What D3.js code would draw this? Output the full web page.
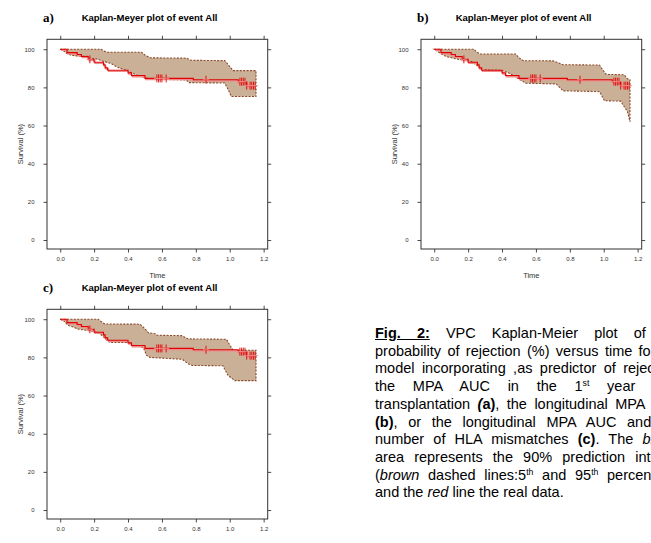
<!DOCTYPE html>
<html>
<head>
<meta charset="utf-8">
<script src="https://cdnjs.cloudflare.com/ajax/libs/d3/7.8.5/d3.min.js"></script>
<style>
    body { margin: 0; background: #fff; width: 651px; height: 543px; overflow: hidden; position: relative;
           font-family: "Liberation Sans", Arial, sans-serif; }
    svg { position: absolute; left: 0; top: 0; }
    #caption { position: absolute; left: 375px; top: 325px; width: 307px; font-size: 14.5px; line-height: 17.7px; color: #000; }
    #caption .ln { text-align: justify; text-align-last: justify; }
    #caption .ln.last { text-align-last: left; }
    #caption sup { font-size: 0.6em; line-height: 0; vertical-align: 0.6em; }
</style>
</head>
<body>
<script>
// axis ticks
const xTicks = [0, 0.2, 0.4, 0.6, 0.8, 1.0, 1.2];
const xTickLabels = ['0.0', '0.2', '0.4', '0.6', '0.8', '1.0', '1.2'];
const yTicks = [0, 20, 40, 60, 80, 100];

// observed Kaplan-Meier curve (same in all panels)
const kmTime = [0, 0.04, 0.10, 0.125, 0.165, 0.20, 0.255, 0.265, 0.28, 0.40, 0.42, 0.50, 0.785, 1.05, 1.10];
const kmSurv = [100, 98.2, 97.2, 96.2, 94.7, 93.2, 91.8, 90.2, 89.0, 87.6, 86.2, 84.7, 84.0, 83.0, 80.9];
const kmEnd = 1.15;
const censorTimes = [0.175, 0.57, 0.58, 0.59, 0.60, 0.625, 0.86, 1.06, 1.07, 1.08, 1.09, 1.10, 1.12, 1.13, 1.14, 1.15];

// 90% prediction interval, [time, survival]
const bandAUpper = [[0, 100], [0.24, 100], [0.26, 99], [0.28, 98.4], [0.48, 98.4], [0.50, 97], [0.53, 95.5],
    [0.745, 95.3], [0.77, 94.2], [0.97, 94.0], [0.99, 92], [1.02, 88.8], [1.155, 88.8]];
const bandALower = [[0, 100], [0.02, 99.2], [0.035, 98.0], [0.06, 97.0], [0.09, 96.5], [0.16, 96.3], [0.175, 95.3],
    [0.22, 94.8], [0.26, 93.5], [0.30, 92.5], [0.34, 90.5], [0.40, 88.5], [0.45, 86.5], [0.50, 85.0], [0.55, 84.3],
    [0.745, 83.9], [0.76, 82.5], [0.97, 82.3], [0.99, 79], [1.01, 75.2], [1.155, 75.2]];

const bandBUpper = [[0, 100], [0.235, 100], [0.25, 98.5], [0.27, 97.5], [0.48, 97.5], [0.50, 95.5], [0.525, 94.0],
    [0.70, 93.9], [0.76, 91.9], [0.975, 91.7], [0.995, 89], [1.015, 86.8], [1.12, 86.6], [1.14, 84.5], [1.155, 84]];
const bandBLower = [[0, 100], [0.02, 98.8], [0.04, 97.6], [0.07, 96.2], [0.11, 95.3], [0.17, 94.3], [0.22, 93.5],
    [0.26, 91.0], [0.28, 89.3], [0.40, 88.8], [0.44, 87.6], [0.49, 84.9], [0.54, 82.2], [0.72, 81.8], [0.76, 78.2],
    [0.975, 77.8], [1.005, 73.0], [1.10, 72.8], [1.14, 67.3], [1.155, 62]];

const bandCUpper = [[0, 100], [0.224, 100], [0.245, 98.5], [0.264, 97.5], [0.47, 97.4], [0.50, 95], [0.52, 92.9],
    [0.56, 92.4], [0.57, 91.6], [0.716, 91.4], [0.755, 89.7], [0.98, 89.5], [1.0, 86.5], [1.02, 83.7], [1.155, 83.7]];
const bandCLower = [[0, 100], [0.02, 99.3], [0.03, 98.2], [0.05, 96.7], [0.08, 95.8], [0.10, 94.9], [0.13, 94.5],
    [0.20, 93.6], [0.24, 92.0], [0.27, 89.5], [0.29, 87.9], [0.39, 87.8], [0.44, 86.2], [0.49, 85.2], [0.51, 81.0],
    [0.53, 80.0], [0.72, 79.0], [0.755, 76.6], [0.78, 75.8], [0.96, 75.6], [0.99, 70.6], [1.03, 67.8], [1.155, 67.8]];

const panels = [
    { tag: 'a)', ox: 0, oy: 0, upper: bandAUpper, lower: bandALower },
    { tag: 'b)', ox: 374, oy: 0, upper: bandBUpper, lower: bandBLower },
    { tag: 'c)', ox: 0, oy: 270, upper: bandCUpper, lower: bandCLower }
];

const box = { left: 47, top: 39.3, width: 220.7, height: 209.7 };

const svg = d3.select('body').append('svg')
    .attr('width', 651)
    .attr('height', 543);

const x = d3.scaleLinear().domain([-0.078, 1.224]).range([0, box.width]);
const y = d3.scaleLinear().domain([-4.7, 105.2]).range([box.height, 0]);

function kmAt(t) {
    let s = kmSurv[0];
    kmTime.forEach((tt, i) => { if (tt <= t) s = kmSurv[i]; });
    return s;
}

function styleAxis(sel) {
    sel.select('.domain').remove();
    sel.selectAll('.tick line').attr('stroke', '#333').attr('stroke-width', 0.9);
    sel.selectAll('.tick text').attr('fill', '#333')
        .style('font-family', '"Liberation Sans", Arial, sans-serif')
        .style('font-size', '6px');
}

panels.forEach(p => {
    const root = svg.append('g').attr('transform', `translate(${p.ox},${p.oy})`);

    // panel tag and title
    root.append('text')
        .attr('x', 43).attr('y', 21.5)
        .style('font-family', '"Liberation Serif", "Times New Roman", serif')
        .style('font-weight', 'bold')
        .style('font-size', '13px')
        .text(p.tag);

    root.append('text')
        .attr('x', box.left + box.width / 2 - 7.8).attr('y', 20.5)
        .attr('text-anchor', 'middle')
        .style('font-weight', 'bold')
        .style('font-size', '9.5px')
        .text('Kaplan-Meyer plot of event All');

    const g = root.append('g').attr('transform', `translate(${box.left},${box.top})`);

    // prediction band
    const outline = p.upper.concat(p.lower.slice().reverse());
    const poly = d3.line().x(d => x(d[0])).y(d => y(d[1]));
    g.append('path')
        .attr('d', poly(outline) + 'Z')
        .attr('fill', '#cbb098')
        .attr('stroke', '#8b4a2b')
        .attr('stroke-width', 1.1)
        .attr('stroke-dasharray', '2,1.4');

    // observed data
    const kmPts = kmTime.map((t, i) => [t, kmSurv[i]]).concat([[kmEnd, kmSurv[kmSurv.length - 1]]]);
    const step = d3.line().x(d => x(d[0])).y(d => y(d[1])).curve(d3.curveStepAfter);
    g.append('path')
        .attr('d', step(kmPts))
        .attr('fill', 'none')
        .attr('stroke', '#f08a8a')
        .attr('stroke-width', 1.3)
        .attr('transform', 'translate(0.8,1.2)');
    g.append('path')
        .attr('d', step(kmPts))
        .attr('fill', 'none')
        .attr('stroke', '#e00000')
        .attr('stroke-width', 1.1);

    // censor marks
    const cens = g.append('g').attr('stroke', '#e00000').attr('stroke-width', 0.9);
    censorTimes.forEach(t => {
        const cx = x(t), cy = y(kmAt(t));
        cens.append('line').attr('x1', cx).attr('x2', cx).attr('y1', cy - 4).attr('y2', cy + 4);
        cens.append('line').attr('x1', cx - 3).attr('x2', cx + 3).attr('y1', cy).attr('y2', cy)
            .attr('stroke', '#f08a8a');
    });

    // axes on all four sides, labels only bottom and left
    g.append('g').attr('transform', `translate(0,${box.height})`)
        .call(d3.axisBottom(x).tickValues(xTicks).tickFormat((d, i) => xTickLabels[i])
            .tickSize(3.5).tickPadding(4).tickSizeOuter(0))
        .call(styleAxis);
    g.append('g')
        .call(d3.axisTop(x).tickValues(xTicks).tickFormat('').tickSize(3.5).tickSizeOuter(0))
        .call(styleAxis);
    g.append('g')
        .call(d3.axisLeft(y).tickValues(yTicks).tickSize(3.5).tickPadding(9).tickSizeOuter(0))
        .call(styleAxis);
    g.append('g').attr('transform', `translate(${box.width},0)`)
        .call(d3.axisRight(y).tickValues(yTicks).tickFormat('').tickSize(3.5).tickSizeOuter(0))
        .call(styleAxis);

    g.append('rect')
        .attr('width', box.width).attr('height', box.height)
        .attr('fill', 'none').attr('stroke', '#333').attr('stroke-width', 1);

    // axis titles
    root.append('text')
        .attr('transform', `translate(22.6,${box.top + box.height / 2}) rotate(-90)`)
        .attr('text-anchor', 'middle')
        .attr('fill', '#333')
        .style('font-size', '7.5px')
        .text('Survival (%)');
    root.append('text')
        .attr('x', box.left + box.width / 2).attr('y', 277.6)
        .attr('text-anchor', 'middle')
        .attr('fill', '#333')
        .style('font-size', '7.5px')
        .text('Time');
});

// figure caption
const captionLines = [
    '<b><u>Fig. 2:</u></b> VPC Kaplan-Meier plot of the',
    'probability of rejection (%) versus time for the',
    'model incorporating ,as predictor of rejection,',
    'the MPA AUC in the 1<sup>st</sup> year after',
    'transplantation <b><i>(</i>a)</b>, the longitudinal MPA AUC',
    '<b>(b)</b>, or the longitudinal MPA AUC and the',
    'number of HLA mismatches <b>(c)</b>. The <i>brown</i>',
    'area represents the 90% prediction interval',
    '(<i>brown</i> dashed lines:5<sup>th</sup> and 95<sup>th</sup> percentiles)',
    'and the <i>red</i> line the real data.'
];
d3.select('body').append('div').attr('id', 'caption')
    .selectAll('div')
    .data(captionLines)
    .enter().append('div')
    .attr('class', (d, i) => i === captionLines.length - 1 ? 'ln last' : 'ln')
    .html(d => d);
</script>
</body>
</html>
